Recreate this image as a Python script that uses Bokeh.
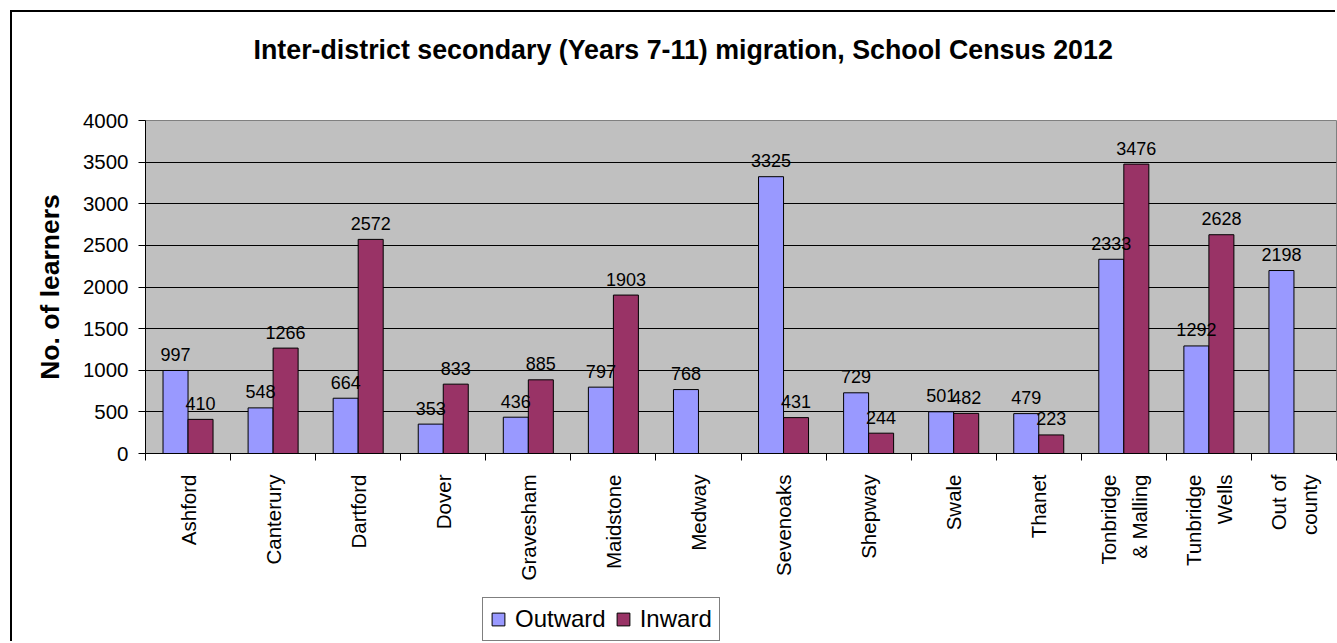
import numpy as np
from bokeh.plotting import figure
from bokeh.layouts import column
from bokeh.models import ColumnDataSource, FixedTicker, Legend, LegendItem, Range1d
from bokeh.core.properties import value
from bokeh.embed import file_html
from bokeh.resources import INLINE

# ---- data ----
districts = ["Ashford", "Canterury", "Dartford", "Dover", "Gravesham", "Maidstone",
             "Medway", "Sevenoaks", "Shepway", "Swale", "Thanet",
             "Tonbridge\n& Malling", "Tunbridge\nWells", "Out of\ncounty"]
outward = [997, 548, 664, 353, 436, 797, 768, 3325, 729, 501, 479, 2333, 1292, 2198]
inward = [410, 1266, 2572, 833, 885, 1903, None, 431, 244, 482, 223, 3476, 2628, None]
y_ticks = [0, 500, 1000, 1500, 2000, 2500, 3000, 3500, 4000]
series_names = ["Outward", "Inward"]
series_colors = ["#9999FF", "#993366"]
title_text = "Inter-district secondary (Years 7-11) migration, School Census 2012"
y_label = "No. of learners"

FONT = "Liberation Sans"
n = len(districts)
centers = [i + 0.5 for i in range(n)]
bounds = [float(i) for i in range(n + 1)]
bw = 0.294

out_src = ColumnDataSource(dict(x=[c - bw / 2 for c in centers], top=outward))
in_vals = [np.nan if v is None else v for v in inward]
in_src = ColumnDataSource(dict(x=[c + bw / 2 for c in centers], top=in_vals))

lab_x, lab_y, lab_t = [], [], []
for c, v in zip(centers, outward):
    lab_x.append(c - bw / 2); lab_y.append(v); lab_t.append(str(v))
for c, v in zip(centers, inward):
    if v is not None:
        lab_x.append(c + bw / 2); lab_y.append(v); lab_t.append(str(v))
lab_src = ColumnDataSource(dict(x=lab_x, y=lab_y, t=lab_t))

W, H, HL = 1325, 578, 53
p = figure(width=W, height=H, output_backend="svg", toolbar_location=None,
           x_range=Range1d(0, n), y_range=Range1d(0, 4000),
           min_border_left=133, min_border_top=108, min_border_bottom=137,
           min_border_right=1)

p.background_fill_color = "#C0C0C0"
p.border_fill_color = "white"
p.outline_line_color = "#808080"
p.outline_line_width = 1

r_out = p.vbar(x="x", top="top", width=bw, source=out_src,
               fill_color=series_colors[0], line_color="black", line_width=1)
r_in = p.vbar(x="x", top="top", width=bw, source=in_src,
              fill_color=series_colors[1], line_color="black", line_width=1)

p.text(x="x", y="y", text="t", source=lab_src, text_align="center",
       text_baseline="alphabetic", y_offset=-16, text_color="black",
       text_font=value(FONT), text_font_size="18px")

# grid
p.xgrid.grid_line_color = None
p.ygrid.grid_line_color = "#000000"
p.ygrid.grid_line_width = 1
p.ygrid.ticker = FixedTicker(ticks=y_ticks[1:-1])

# y axis
p.yaxis.ticker = FixedTicker(ticks=y_ticks)
p.yaxis.axis_line_color = "black"
p.yaxis.major_tick_line_color = "black"
p.yaxis.major_tick_out = 7
p.yaxis.major_tick_in = 0
p.yaxis.minor_tick_line_color = None
p.yaxis.major_label_standoff = 10
p.yaxis.major_label_text_font = FONT
p.yaxis.major_label_text_font_size = "20.5px"
p.yaxis.major_label_text_color = "black"
p.yaxis.axis_label = y_label
p.yaxis.axis_label_text_font = FONT
p.yaxis.axis_label_text_font_style = "bold"
p.yaxis.axis_label_text_font_size = "26.5px"
p.yaxis.axis_label_text_color = "black"
p.yaxis.axis_label_standoff = 15

# x axis
p.xaxis.ticker = FixedTicker(ticks=centers, minor_ticks=bounds)
p.xaxis.major_label_overrides = {c: d for c, d in zip(centers, districts)}
p.xaxis.major_label_orientation = np.pi / 2
p.xaxis.axis_line_color = "black"
p.xaxis.major_tick_line_color = None
p.xaxis.major_tick_out = 0
p.xaxis.major_tick_in = 0
p.xaxis.minor_tick_line_color = "black"
p.xaxis.minor_tick_out = 7
p.xaxis.minor_tick_in = 0
p.xaxis.major_label_standoff = 14
p.xaxis.major_label_text_font = FONT
p.xaxis.major_label_text_font_size = "20.5px"
p.xaxis.major_label_text_color = "black"
p.xaxis.major_label_text_line_height = 1.35

# title
p.title.text = title_text
p.title.align = "left"
p.title.offset = 108
p.title.vertical_align = "bottom"
p.title.text_font = FONT
p.title.text_font_style = "bold"
p.title.text_font_size = "26.8px"
p.title.text_color = "black"
p.title.standoff = 0
p.title.padding = dict(left=0, right=0, top=19, bottom=56)

# legend (separate strip below the chart)
lg = figure(width=W, height=HL, output_backend="svg", toolbar_location=None,
            x_range=Range1d(0, 1), y_range=Range1d(0, 1),
            x_axis_location=None, y_axis_location=None,
            min_border=0)
lg.outline_line_color = None
lg.background_fill_color = "white"
lg.border_fill_color = "white"
lg.grid.visible = False
key_src = ColumnDataSource(dict(x=[np.nan], top=[np.nan]))
lo = lg.vbar(x="x", top="top", width=bw, source=key_src,
             fill_color=series_colors[0], line_color="black", line_width=1)
li = lg.vbar(x="x", top="top", width=bw, source=key_src,
             fill_color=series_colors[1], line_color="black", line_width=1)
legend = Legend(items=[LegendItem(label=series_names[0], renderers=[lo]),
                       LegendItem(label=series_names[1], renderers=[li])],
                location=(337, 2), orientation="horizontal",
                border_line_color="black", border_line_width=1,
                background_fill_color="white", background_fill_alpha=1,
                padding=7, spacing=9, label_standoff=9, margin=0,
                glyph_width=16, glyph_height=16,
                label_text_font=FONT, label_text_font_size="24px",
                label_text_color="black")
lg.add_layout(legend, "center")

page = column(p, lg, spacing=0, margin=(12, 0, 0, 12),
              styles={"box-shadow": "-2px -2px 0 0 #000000"})

open("out.html", "w").write(file_html(page, INLINE))
